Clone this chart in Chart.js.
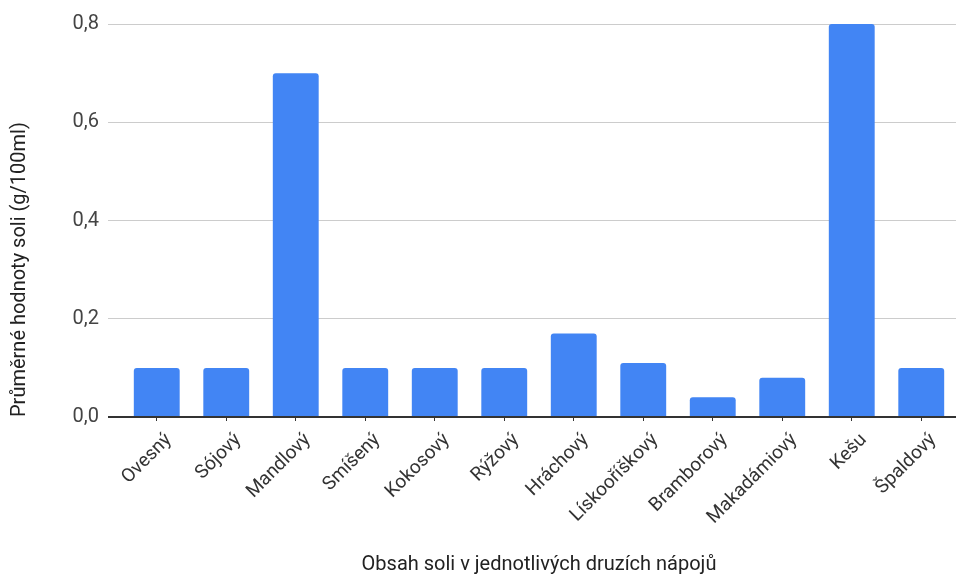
<!DOCTYPE html>
<html>
<head>
<meta charset="utf-8">
<script src="https://cdn.jsdelivr.net/npm/chart.js@4"></script>
<style>
  html, body { margin: 0; padding: 0; background: #fff; }
  #wrap { width: 960px; height: 578px; }
</style>
</head>
<body>
<div id="wrap"><canvas id="saltChart"></canvas></div>
<script>
const categories = ['Ovesný', 'Sójový', 'Mandlový', 'Smíšený', 'Kokosový', 'Rýžový',
    'Hráchový', 'Lískooříškový', 'Bramborový', 'Makadámiový', 'Kešu', 'Špaldový'];
const saltValues = [0.1, 0.1, 0.7, 0.1, 0.1, 0.1, 0.17, 0.11, 0.04, 0.08, 0.8, 0.1];
const yTicks = [0, 0.2, 0.4, 0.6, 0.8];

const FONT = 'Roboto, "Liberation Sans", Arial, sans-serif';

const ctx = document.getElementById('saltChart').getContext('2d');

let saltChart = new Chart(ctx, {
    type: 'bar',
    data: {
        labels: categories,
        datasets: [{
            label: 'Sůl',
            data: saltValues,
            backgroundColor: '#4285f4',
            borderRadius: 3,
            borderSkipped: 'bottom',
            categoryPercentage: 1,
            barPercentage: 0.66
        }]
    },
    options: {
        responsive: true,
        maintainAspectRatio: false,
        animation: false,
        layout: { padding: { top: 24, right: 4, left: 0, bottom: 0 } },
        plugins: {
            legend: { display: false },
            tooltip: { enabled: false }
        },
        scales: {
            x: {
                grid: {
                    offset: false,
                    drawOnChartArea: false,
                    drawTicks: true,
                    tickLength: 4,
                    color: '#333'
                },
                border: { display: false },
                ticks: {
                    minRotation: 45,
                    maxRotation: 45,
                    autoSkip: false,
                    padding: 8,
                    labelOffset: 12,
                    color: '#333',
                    font: { family: FONT, size: 19 }
                },
                title: {
                    display: true,
                    text: 'Obsah soli v jednotlivých druzích nápojů',
                    color: '#222',
                    font: { family: FONT, size: 20 },
                    padding: { top: 0, bottom: 1 }
                },
                afterFit: (scale) => { scale.height = 161; }
            },
            y: {
                min: 0,
                max: 0.8,
                afterBuildTicks: (scale) => { scale.ticks = yTicks.map(v => ({ value: v })); },
                grid: {
                    color: (c) => c.tick && c.tick.value === 0 ? '#333' : '#ccc',
                    lineWidth: (c) => c.tick && c.tick.value === 0 ? 2 : 1,
                    tickLength: 14
                },
                border: { display: false },
                ticks: {
                    padding: 9,
                    color: '#444',
                    font: { family: FONT, size: 20 },
                    callback: (v) => Number(v).toFixed(1).replace('.', ',')
                },
                title: {
                    display: true,
                    text: 'Průměrné hodnoty soli (g/100ml)',
                    align: 'start',
                    color: '#222',
                    font: { family: FONT, size: 20 },
                    padding: { top: 8, bottom: 0 }
                },
                afterFit: (scale) => { scale.width = 122; }
            }
        }
    }
});
</script>
</body>
</html>
